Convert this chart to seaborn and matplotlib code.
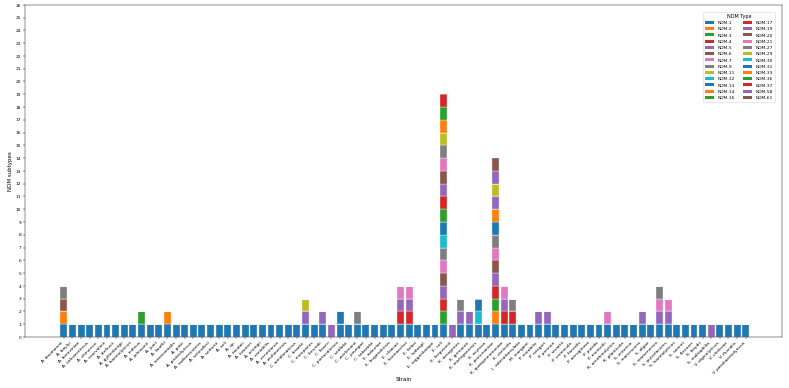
import matplotlib
matplotlib.use("Agg")
import matplotlib.pyplot as plt
from matplotlib.patches import Patch
import seaborn as sns
import pandas as pd

strains = [
    "A. baumannii", "A. baylyi", "A. bereziniae", "A. calcoaceticus", "A. chinensis",
    "A. courvalinii", "A. defluvii", "A. gyllenbergii", "A. haemolyticus", "A. indicus",
    "A. johnsonii", "A. junii", "A. lwoffii", "A. nosocomialis", "A. pittii",
    "A. proteolyticus", "A. radioresistens", "A. schindleri", "A. seifertii", "A. soli",
    "A. sp.", "A. tandoii", "A. towneri", "A. ursingii", "A. variabilis",
    "A. venetianus", "A. wuhouensis", "C. amalonaticus", "C. braakii", "C. europaeus",
    "C. freundii", "C. koseri", "C. portucalensis", "C. sedlakii", "C. werkmanii",
    "C. youngae", "C. sakazakii", "E. asburiae", "E. bugandensis", "E. cloacae",
    "E. hormaechei", "E. kobei", "E. ludwigii", "E. roggenkampii", "E. coli",
    "E. fergusonii", "K. aerogenes", "K. grimontii", "K. michiganensis", "K. oxytoca",
    "K. pneumoniae", "K. quasipneumoniae", "K. variicola", "L. adecarboxylata", "M. morganii",
    "P. mirabilis", "P. rettgeri", "P. penneri", "P. stuartii", "P. vermicola",
    "P. faecalis", "P. aeruginosa", "P. putida", "P. monteilii", "R. ornithinolytica",
    "R. planticola", "S. enterica", "S. marcescens", "S. algae", "S. xiamenensis",
    "S. putrefaciens", "S. haemolyticus", "S. sonnei", "S. flexneri", "S. boydii",
    "S. maltophilia", "V. alginolyticus", "V. cholerae", "V. fluvialis", "V. parahaemolyticus",
]

ndm_types = [
    "NDM-1", "NDM-2", "NDM-3", "NDM-4", "NDM-5", "NDM-6", "NDM-7", "NDM-9", "NDM-11",
    "NDM-12", "NDM-13", "NDM-14", "NDM-16", "NDM-17", "NDM-19", "NDM-20", "NDM-21",
    "NDM-27", "NDM-29", "NDM-30", "NDM-31", "NDM-33", "NDM-36", "NDM-37", "NDM-58", "NDM-61",
]

# NDM subtypes found per strain (strains not listed carry only NDM-1)
special = {
    "A. baumannii": ["NDM-1", "NDM-2", "NDM-6", "NDM-9"],
    "A. indicus": ["NDM-1", "NDM-3"],
    "A. lwoffii": ["NDM-1", "NDM-2"],
    "C. braakii": ["NDM-1", "NDM-5", "NDM-11"],
    "C. freundii": ["NDM-1", "NDM-5"],
    "C. koseri": ["NDM-5"],
    "C. portucalensis": ["NDM-1", "NDM-13"],
    "C. werkmanii": ["NDM-1", "NDM-9"],
    "E. cloacae": ["NDM-1", "NDM-4", "NDM-5", "NDM-7"],
    "E. hormaechei": ["NDM-1", "NDM-4", "NDM-5", "NDM-7"],
    "E. coli": ["NDM-1", "NDM-3", "NDM-4", "NDM-5", "NDM-6", "NDM-7", "NDM-9", "NDM-12",
                "NDM-13", "NDM-16", "NDM-17", "NDM-19", "NDM-20", "NDM-21", "NDM-27",
                "NDM-29", "NDM-33", "NDM-36", "NDM-37"],
    "E. fergusonii": ["NDM-5"],
    "K. aerogenes": ["NDM-1", "NDM-5", "NDM-9"],
    "K. grimontii": ["NDM-1", "NDM-5"],
    "K. michiganensis": ["NDM-1", "NDM-30", "NDM-31"],
    "K. pneumoniae": ["NDM-1", "NDM-2", "NDM-3", "NDM-4", "NDM-5", "NDM-6", "NDM-7", "NDM-9",
                      "NDM-13", "NDM-14", "NDM-19", "NDM-29", "NDM-58", "NDM-61"],
    "K. quasipneumoniae": ["NDM-1", "NDM-4", "NDM-5", "NDM-7"],
    "K. variicola": ["NDM-1", "NDM-4", "NDM-9"],
    "P. mirabilis": ["NDM-1", "NDM-5"],
    "P. rettgeri": ["NDM-1", "NDM-5"],
    "P. monteilii": ["NDM-1", "NDM-7"],
    "S. marcescens": ["NDM-1", "NDM-5"],
    "S. xiamenensis": ["NDM-1", "NDM-5", "NDM-7", "NDM-9"],
    "S. putrefaciens": ["NDM-1", "NDM-5", "NDM-7"],
    "S. maltophilia": ["NDM-5"],
}

rows = []
for s in strains:
    for t in special.get(s, ["NDM-1"]):
        rows.append({"Strain": s, "NDM Type": t})
df = pd.DataFrame(rows)
df["Strain"] = pd.Categorical(df["Strain"], categories=strains, ordered=True)

tab10 = sns.color_palette("tab10", 10)
palette = {t: tab10[i % 10] for i, t in enumerate(ndm_types)}

DPI = 39.45
fig = plt.figure(figsize=(789 / DPI, 388.2 / DPI), dpi=DPI)
ax = fig.add_axes([25 / 789, 1 - 337 / 388, (782 - 25) / 789, (337 - 5) / 388])

sns.histplot(
    data=df, x="Strain", hue="NDM Type", hue_order=ndm_types[::-1],
    palette=palette, multiple="stack", discrete=True, shrink=0.8,
    alpha=1, edgecolor="white", linewidth=0.6, legend=False, ax=ax,
)

ax.set_xlim(-4.5, 83.2)
ax.set_ylim(0, 26)
ax.set_yticks(range(27))
ax.set_xticks(range(len(strains)))
ax.set_xticklabels(strains, rotation=45, ha="right")
ax.tick_params(axis="both", labelsize=8)
ax.set_xlabel("Strain", fontsize=10)
ax.set_ylabel("NDM subtypes", fontsize=10)

handles = [Patch(facecolor=palette[t], label=t) for t in ndm_types]
ax.legend(handles=handles, title="NDM Type", ncol=2, loc="upper right",
          fontsize=8, title_fontsize=9, borderaxespad=1.6)

fig.savefig("out.png", dpi=DPI)
